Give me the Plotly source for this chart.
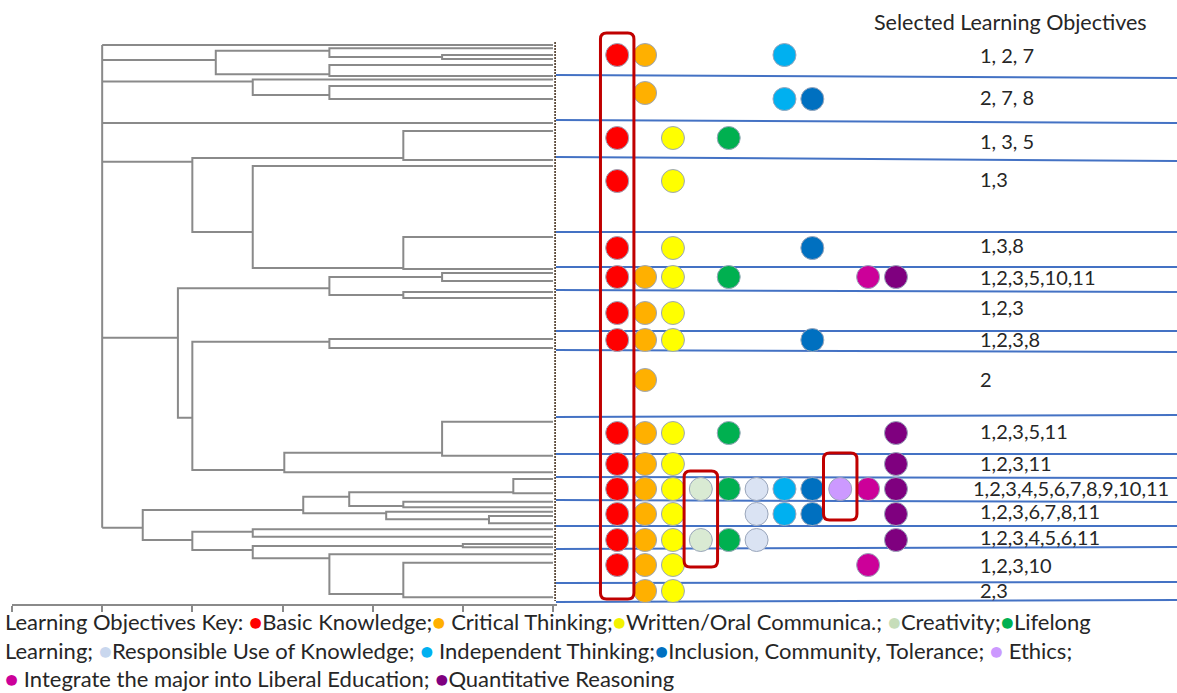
import plotly.graph_objects as go

# ---------------- Dendrogram data (distance on bottom axis, vertical position) ----------------
merge_h   = [1.23, 2.48, 2.48, 3.74, 2.48, 3.33, 1.66, 4.00, 1.66, 3.33, 1.23, 1.66, 2.48, 2.48, 1.23, 2.98,
             4.00, 4.16, 0.44, 1.66, 2.26, 0.71, 1.85, 2.77, 3.33, 1.00, 1.66, 2.48, 3.33, 4.00, 4.55]
merge_y_a = [55, 48.3, 65, 50.7, 86, 79.5, 131, 158, 237, 166, 273, 292, 277, 339, 421.7, 452.7,
             341.7, 288.3, 479, 501.7, 492.3, 516, 511.7, 496.7, 529.3, 544, 562.7, 554.3, 546, 531.7, 510]
merge_y_b = [59, 57, 76, 74.3, 99, 95, 160, 232, 269, 268, 281, 298, 295, 348, 455.7, 472.3,
             470, 417.7, 493.3, 507.3, 506, 523.3, 519.3, 513.3, 536.7, 547.3, 597.3, 594, 558.3, 550, 540]
merge_h_a = [0, 0, 0, 2.48, 0, 0, 0, 1.66, 0, 0, 0, 0, 1.23, 0, 0, 1.23,
             2.48, 2.48, 0, 0, 0.44, 0, 0, 2.26, 0, 0, 0, 0, 1.00, 3.33, 2.77]
merge_h_b = [0, 1.23, 0, 2.48, 0, 2.48, 0, 3.33, 0, 1.66, 0, 0, 1.66, 0, 0, 0,
             2.98, 4.00, 0, 0, 1.66, 0, 0.71, 1.85, 0, 0, 0, 1.66, 2.48, 3.33, 4.00]
root_h = 5.0
root_child_y = [45, 60, 81.5, 123, 161.7, 337.7, 527.7]
root_child_h = [0, 3.74, 3.33, 0, 4.00, 4.16, 4.55]
dist_ticks = [0, 1, 2, 3, 4, 5, 6]
leaf_span = [42, 601]

# ---------------- Learning objectives matrix ----------------
obj_ids = list(range(1, 12))
obj_names = ["Basic Knowledge", "Critical Thinking", "Written/Oral Communica.", "Creativity",
             "Lifelong Learning", "Responsible Use of Knowledge", "Independent Thinking",
             "Inclusion, Community, Tolerance", "Ethics",
             "Integrate the major into Liberal Education", "Quantitative Reasoning"]
obj_colors = ["#FF0000", "#FFB000", "#FFFF00", "#D9EAD3", "#00B050", "#DAE3F3",
              "#00B0F0", "#0070C0", "#CC99FF", "#CC0099", "#7F007F"]
key_dot_colors = ["#FF0000", "#FFB000", "#F2F200", "#C6DDBA", "#00B050", "#C9D7EE",
                  "#00B0F0", "#0070C0", "#CC99FF", "#CC0099", "#7F007F"]

row_y = [55, 93, 99, 138, 181, 248, 277, 313, 340, 380, 433, 464, 489, 514, 540, 565, 591]
row_objs = [[1, 2, 7], [2], [7, 8], [1, 3, 5], [1, 3], [1, 3, 8], [1, 2, 3, 5, 10, 11], [1, 2, 3],
            [1, 2, 3, 8], [2], [1, 2, 3, 5, 11], [1, 2, 3, 11], [1, 2, 3, 4, 5, 6, 7, 8, 9, 10, 11],
            [1, 2, 3, 6, 7, 8, 11], [1, 2, 3, 4, 5, 6, 11], [1, 2, 3, 10], [2, 3]]

label_y = [55, 97, 141, 179, 245, 277, 307, 339, 379, 431, 463, 488, 511, 537, 565, 590]
label_text = ["1, 2, 7", "2, 7, 8", "1, 3, 5", "1,3", "1,3,8", "1,2,3,5,10,11", "1,2,3", "1,2,3,8", "2",
              "1,2,3,5,11", "1,2,3,11", "1,2,3,4,5,6,7,8,9,10,11", "1,2,3,6,7,8,11",
              "1,2,3,4,5,6,11", "1,2,3,10", "2,3"]

sep_y_left = [75, 120, 157, 232, 267, 290, 331, 350, 417, 454, 477, 500, 526, 549, 583, 602]
sep_y_right = [78, 123, 161, 232, 267, 292, 331, 352, 415, 454, 478, 502, 526, 547, 582, 600]

highlight_col = [1, 4, 9]
highlight_y0 = [33, 471, 453]
highlight_y1 = [599, 567, 520]

title_text = "Selected Learning Objectives"
key_lines = [
    "Learning Objectives Key: {1}Basic Knowledge;{2} Critical Thinking;{3}Written/Oral Communica.; {4}Creativity;{5}Lifelong",
    "Learning; {6}Responsible Use of Knowledge; {7} Independent Thinking;{8}Inclusion, Community, Tolerance; {9} Ethics;",
    "{10} Integrate the major into Liberal Education; {11}Quantitative Reasoning",
]

# ---------------- geometry / style ----------------
W, H = 1177, 693
FONT = "Lato, Carlito, Calibri, sans-serif"
X2_RANGE = [-1.195, 21.08]
Y_RANGE = [604, 0]

fig = go.Figure()

# dendrogram links
dx, dy = [], []
for h, ya, yb, ha, hb in zip(merge_h, merge_y_a, merge_y_b, merge_h_a, merge_h_b):
    dx += [ha, h, h, hb, None]
    dy += [ya, ya, yb, yb, None]
dx += [root_h, root_h, None]
dy += [min(root_child_y), max(root_child_y), None]
for cy, ch in zip(root_child_y, root_child_h):
    dx += [ch, root_h, None]
    dy += [cy, cy, None]
fig.add_trace(go.Scatter(x=dx, y=dy, mode="lines", xaxis="x", yaxis="y",
                         line=dict(color="#8a8a8a", width=2), hoverinfo="skip"))
# leaf label column
fig.add_trace(go.Scatter(x=[-0.03, -0.03], y=leaf_span, mode="lines", xaxis="x", yaxis="y",
                         line=dict(color="#5e4c3c", width=3, dash="2px,1px"), hoverinfo="skip"))

# separator lines
sx, sy = [], []
for yl, yr in zip(sep_y_left, sep_y_right):
    sx += [X2_RANGE[0], X2_RANGE[1], None]
    sy += [yl, yr, None]
fig.add_trace(go.Scatter(x=sx, y=sy, mode="lines", xaxis="x2", yaxis="y",
                         line=dict(color="#4472C4", width=2), hoverinfo="skip"))

# dots
px, py, pc = [], [], []
for y, objs in zip(row_y, row_objs):
    for o in objs:
        px.append(o)
        py.append(y)
        pc.append(obj_colors[o - 1])
fig.add_trace(go.Scatter(x=px, y=py, mode="markers", xaxis="x2", yaxis="y",
                         marker=dict(size=23, color=pc, line=dict(color="#9aa6bb", width=1)),
                         hoverinfo="skip"))

# highlight rounded rectangles
for c, y0, y1 in zip(highlight_col, highlight_y0, highlight_y1):
    x0, x1 = c - 0.6, c + 0.6
    rx, ry = 0.22, 6
    path = (f"M {x0+rx},{y0} L {x1-rx},{y0} Q {x1},{y0} {x1},{y0+ry} "
            f"L {x1},{y1-ry} Q {x1},{y1} {x1-rx},{y1} L {x0+rx},{y1} "
            f"Q {x0},{y1} {x0},{y1-ry} L {x0},{y0+ry} Q {x0},{y0} {x0+rx},{y0} Z")
    fig.add_shape(type="path", path=path, xref="x2", yref="y",
                  line=dict(color="#C00000", width=3), fillcolor="rgba(0,0,0,0)")

# row labels
for y, t in zip(label_y, label_text):
    long = len(t) > 16
    fig.add_annotation(x=(X2_RANGE[1] - 0.2) if long else 13.95, y=y, xref="x2", yref="y",
                       text=t, showarrow=False, xanchor="right" if long else "left",
                       yanchor="middle", font=dict(family=FONT, size=20, color="#262626"))

fig.add_annotation(x=15.12, y=22, xref="x2", yref="y", text=title_text, showarrow=False,
                   xanchor="center", yanchor="middle",
                   font=dict(family=FONT, size=21.5, color="#262626"))

# key (one text block, three lines)
def dot(i):
    return f"<span style='color:{key_dot_colors[i-1]}'>●</span>"

key_txt = "<br>".join(key_lines)
for i in sorted(obj_ids, reverse=True):
    key_txt = key_txt.replace("{" + str(i) + "}", dot(i))
fig.add_annotation(x=4 / W, y=0, xref="paper", yref="paper", text=key_txt,
                   showarrow=False, xanchor="left", yanchor="bottom", align="left", borderpad=0,
                   font=dict(family=FONT, size=22, color="#262626"))

fig.update_layout(
    width=W, height=H, autosize=False, margin=dict(l=0, r=0, t=0, b=0),
    paper_bgcolor="white", plot_bgcolor="white", showlegend=False,
    xaxis=dict(domain=[12 / W, 557 / W], range=[6, -0.0444], anchor="y",
               showline=True, linecolor="#8a8a8a", linewidth=1.5,
               ticks="outside", tickvals=dist_ticks, ticklen=6, tickcolor="#8a8a8a", tickwidth=1.5,
               showticklabels=False, showgrid=False, zeroline=False, fixedrange=True),
    xaxis2=dict(domain=[556 / W, 1], range=X2_RANGE, anchor="y", visible=False, fixedrange=True),
    yaxis=dict(domain=[(H - 604) / H, 1], range=Y_RANGE, visible=False, fixedrange=True),
)

fig.write_html("out.html", config={"displayModeBar": False},
               post_script="document.body.style.margin='0';document.body.style.padding='0';"
                           "document.body.style.overflow='hidden';")
